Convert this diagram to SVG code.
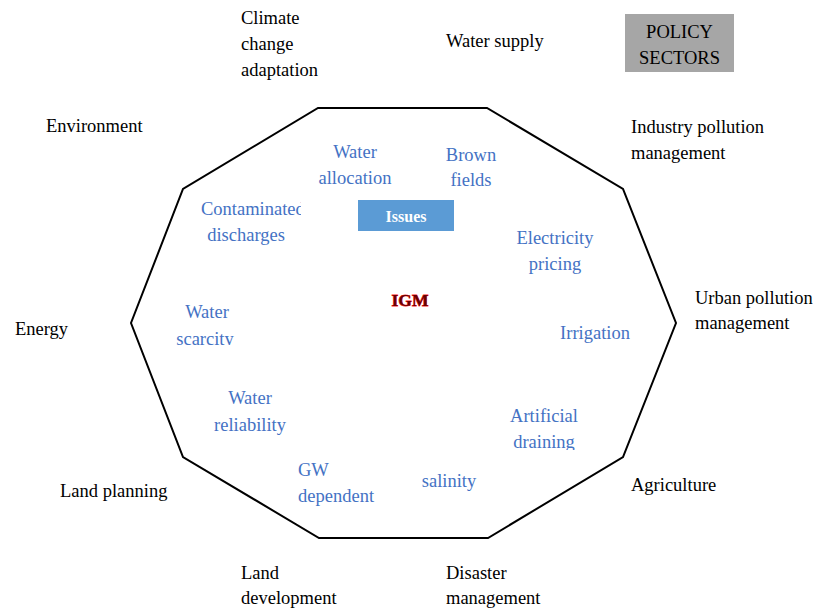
<svg xmlns="http://www.w3.org/2000/svg" width="815" height="608" viewBox="0 0 815 608">
<style>
.s{font-family:"Liberation Serif","Times New Roman",serif;font-size:18.5px;fill:#000}
.b{font-family:"Liberation Serif","Times New Roman",serif;font-size:18.5px;fill:#4472c4}
.m{text-anchor:middle}
</style>
<defs>
<clipPath id="c1"><rect x="190" y="190" width="111" height="60"/></clipPath>
<clipPath id="c2"><rect x="160" y="295" width="100" height="50"/></clipPath>
<clipPath id="c3"><rect x="490" y="400" width="110" height="50"/></clipPath>
</defs>
<rect width="815" height="608" fill="#fff"/>
<g id="decagon"><polygon points="318,108 487,108 623,189 676,323 623,457 488,538 319,538 183,457 131,323 183,189" fill="none" stroke="#000" stroke-width="2"/></g>
<g id="policy-sectors"><rect x="625" y="14" width="109" height="58" fill="#a6a6a6"/><text class="s m" x="679.5" y="38">POLICY</text><text class="s m" x="679.5" y="64">SECTORS</text></g>
<g id="issues"><rect x="358" y="200" width="96" height="31" fill="#5b9bd5"/><text class="m" x="406" y="222" font-family="Liberation Serif,serif" font-size="16" font-weight="bold" fill="#fff">Issues</text></g>
<g id="igm"><text class="m" x="410" y="306" font-family="Liberation Serif,serif" font-size="17.5" font-weight="bold" fill="#6a0000" stroke="#ff1a1a" stroke-width="0.8" paint-order="stroke">IGM</text></g>
<g id="climate"><text class="s" x="241" y="24">Climate</text><text class="s" x="241" y="50">change</text><text class="s" x="241" y="76">adaptation</text></g>
<g id="water-supply"><text class="s" x="446" y="47">Water supply</text></g>
<g id="environment"><text class="s" x="46" y="132">Environment</text></g>
<g id="industry"><text class="s" x="631" y="133">Industry pollution</text><text class="s" x="631" y="159">management</text></g>
<g id="urban"><text class="s" x="695" y="304">Urban pollution</text><text class="s" x="695" y="329">management</text></g>
<g id="energy"><text class="s" x="15" y="335">Energy</text></g>
<g id="land-planning"><text class="s" x="60" y="497">Land planning</text></g>
<g id="agriculture"><text class="s" x="631" y="491">Agriculture</text></g>
<g id="land-development"><text class="s" x="241" y="579">Land</text><text class="s" x="241" y="604">development</text></g>
<g id="disaster"><text class="s" x="446" y="579">Disaster</text><text class="s" x="446" y="604">management</text></g>
<g id="water-allocation"><text class="b m" x="355" y="158">Water</text><text class="b m" x="355" y="184">allocation</text></g>
<g id="brown-fields"><text class="b m" x="471" y="161">Brown</text><text class="b m" x="471" y="186">fields</text></g>
<g id="contaminated" clip-path="url(#c1)"><text class="b" x="201" y="215">Contaminated</text><text class="b m" x="246" y="241">discharges</text></g>
<g id="electricity"><text class="b m" x="555" y="244">Electricity</text><text class="b m" x="555" y="270">pricing</text></g>
<g id="water-scarcity" clip-path="url(#c2)"><text class="b m" x="207" y="318">Water</text><text class="b m" x="205" y="345">scarcity</text></g>
<g id="irrigation"><text class="b m" x="595" y="339">Irrigation</text></g>
<g id="water-reliability"><text class="b m" x="250" y="404">Water</text><text class="b m" x="250" y="431">reliability</text></g>
<g id="artificial" clip-path="url(#c3)"><text class="b m" x="544" y="422">Artificial</text><text class="b m" x="544" y="448">draining</text></g>
<g id="gw"><text class="b" x="298" y="476">GW</text><text class="b" x="298" y="502">dependent</text></g>
<g id="salinity"><text class="b m" x="449" y="487">salinity</text></g>
<g id="connectors"></g>
</svg>
